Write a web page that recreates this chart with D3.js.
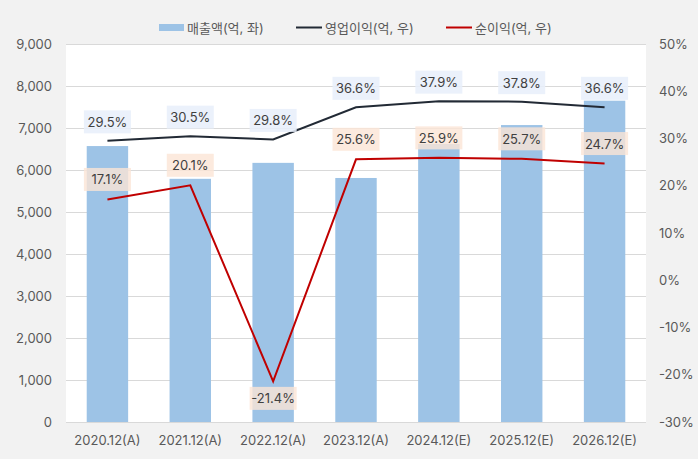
<!DOCTYPE html>
<html><head><meta charset="utf-8">
<script src="https://cdn.jsdelivr.net/npm/d3@7"></script>
<style>
html,body{margin:0;padding:0;background:#f2f2f2;}
svg{display:block;font-family:Inter,"Noto Sans CJK KR",sans-serif;}
</style></head>
<body>
<svg id="c" width="698" height="459"></svg>
<script>
const categories = ["2020.12(A)","2021.12(A)","2022.12(A)","2023.12(A)","2024.12(E)","2025.12(E)","2026.12(E)"];
const revenue = [6570, 5790, 6170, 5810, 6620, 7070, 7650];
const opMargin = [29.5, 30.5, 29.8, 36.6, 37.9, 37.8, 36.6];
const netMargin = [17.1, 20.1, -21.4, 25.6, 25.9, 25.7, 24.7];
const leftTicks = [0,1000,2000,3000,4000,5000,6000,7000,8000,9000];
const rightTicks = [-30,-20,-10,0,10,20,30,40,50];
const seriesNames = ["매출액(억, 좌)","영업이익(억, 우)","순이익(억, 우)"];

const svg = d3.select("#c");
const m = {l:66, r:646, t:44, b:422};
const x = d3.scaleBand().domain(categories).range([m.l, m.r]).paddingInner(0.5).paddingOuter(0.25);
const yL = d3.scaleLinear().domain([0,9000]).range([m.b, m.t]);
const yR = d3.scaleLinear().domain([-30,50]).range([m.b, m.t]);

svg.append("rect").attr("x",m.l).attr("y",m.t).attr("width",m.r-m.l).attr("height",m.b-m.t).attr("fill","#fff");

// gridlines
svg.append("g").selectAll("line").data(leftTicks).join("line")
  .attr("x1",m.l).attr("x2",m.r).attr("y1",d=>yL(d)).attr("y2",d=>yL(d))
  .attr("stroke","#d9d9d9").attr("stroke-width",1).attr("shape-rendering","crispEdges");

// bars
svg.append("g").selectAll("rect").data(revenue).join("rect")
  .attr("x",(d,i)=>x(categories[i])).attr("width",x.bandwidth())
  .attr("y",d=>yL(d)).attr("height",d=>yL(0)-yL(d)).attr("fill","#9dc3e6");

// axes
const axL = svg.append("g").attr("transform",`translate(${m.l},0)`)
  .call(d3.axisLeft(yL).tickValues(leftTicks).tickFormat(d3.format(",")).tickSize(0).tickPadding(14));
const axR = svg.append("g").attr("transform",`translate(${m.r},0)`)
  .call(d3.axisRight(yR).tickValues(rightTicks).tickFormat(d=>d+"%").tickSize(0).tickPadding(13));
const axB = svg.append("g").attr("transform",`translate(0,${m.b})`)
  .call(d3.axisBottom(x).tickSize(0).tickPadding(11));
[axL,axR,axB].forEach(a=>{
  a.select(".domain").remove();
  a.selectAll("text").attr("fill","#595959").style("font-size","13px").style("font-family","Inter,sans-serif");
});
axB.selectAll("text").attr("dy","0.9em");

// lines
const cx = i => x(categories[i]) + x.bandwidth()/2;
const lineOp = d3.line().x((d,i)=>cx(i)).y(d=>yR(d));
svg.append("path").datum(opMargin).attr("d",lineOp).attr("fill","none").attr("stroke","#222a35").attr("stroke-width",2);
svg.append("path").datum(netMargin).attr("d",lineOp).attr("fill","none").attr("stroke","#c00000").attr("stroke-width",2);

// labels
function labels(data, fill, offFn){
  const g = svg.append("g");
  data.forEach((v,i)=>{
    const cy = yR(v) + offFn(v);
    const t = v.toFixed(1)+"%";
    const w = 47, h = 23;
    g.append("rect").attr("x",cx(i)-w/2).attr("y",cy-h/2).attr("width",w).attr("height",h).attr("fill",fill);
    g.append("text").attr("x",cx(i)).attr("y",cy).attr("text-anchor","middle").attr("dominant-baseline","central")
      .attr("fill","#404040").style("font-size","13px").text(t);
  });
}
labels(opMargin, "rgba(232,238,250,0.85)", v=>-19);
labels(netMargin, "rgba(251,229,214,0.8)", v=> v<0 ? 17 : -20);

// legend
const lg = svg.append("g").style("font-size","13px");
lg.append("rect").attr("x",159).attr("y",24).attr("width",25).attr("height",7).attr("fill","#9dc3e6");
lg.append("text").attr("x",187).attr("y",27.5).attr("dominant-baseline","central").attr("fill","#595959").text(seriesNames[0]);
lg.append("line").attr("x1",296).attr("x2",322).attr("y1",27.5).attr("y2",27.5).attr("stroke","#222a35").attr("stroke-width",2);
lg.append("text").attr("x",325).attr("y",27.5).attr("dominant-baseline","central").attr("fill","#595959").text(seriesNames[1]);
lg.append("line").attr("x1",446).attr("x2",472).attr("y1",27.5).attr("y2",27.5).attr("stroke","#c00000").attr("stroke-width",2);
lg.append("text").attr("x",475).attr("y",27.5).attr("dominant-baseline","central").attr("fill","#595959").text(seriesNames[2]);
</script>
</body></html>
